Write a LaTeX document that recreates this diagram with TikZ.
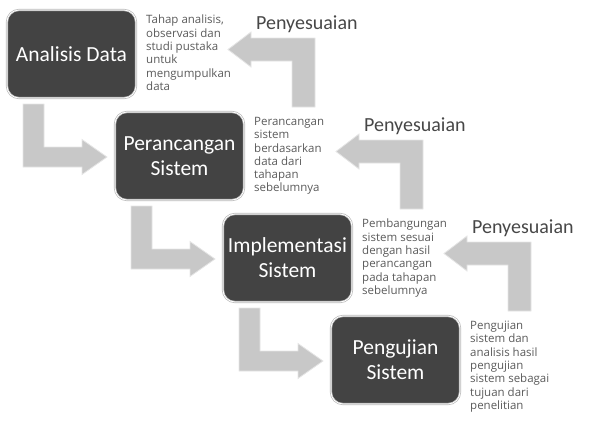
\documentclass[tikz,border=0pt]{standalone}
\usepackage{fontspec}
\setmainfont{Carlito}
\newfontfamily\descfont{Open Sans}
\usepackage{tikz}
\usetikzlibrary{positioning,calc}
\definecolor{boxdark}{HTML}{434343}
\definecolor{arrowgray}{HTML}{C8C8C8}
\definecolor{descgray}{HTML}{5A5A5A}
\tikzset{
	stage/.style = {rectangle, rounded corners=12pt, fill=boxdark, draw=gray!55,
		double=white, double distance=0.8pt, line width=0.7pt, minimum width=129pt,
		minimum height=88pt, align=center, text=white, outer sep=0pt,
		font=\fontsize{21.5}{25}\selectfont},% kotak tahapan
	desc/.style = {align=left, inner sep=0pt, text=descgray,
		font=\descfont\fontsize{11.5}{13.3}\selectfont},% keterangan tahapan
	adjust/.style = {inner sep=0pt, anchor=west, text=black!72,
		font=\fontsize{20}{24}\selectfont},% label penyesuaian
	bigarrow/.style = {fill=arrowgray, draw=white!80!gray, line width=0.8pt}
}
\begin{document}
\begin{tikzpicture}[x=1pt, y=-1pt]
\useasboundingbox (0,0) rectangle (590,429);
\node [stage] (analisis) at (71.5,54) {Analisis Data};
\node [stage, below right = 14pt and -21pt of analisis] (perancangan) {Perancangan\\ Sistem};
\node [stage, below right = 14pt and -21pt of perancangan] (implementasi) {Implementasi\\ Sistem};
\node [stage, below right = 14pt and -21pt of implementasi] (pengujian) {Pengujian\\ Sistem};

\node [desc, below right = 5pt and 10pt of analisis.north east] (d_analisis)
	{Tahap analisis,\\ observasi dan\\ studi pustaka\\ untuk\\ mengumpulkan\\ data};
\node [desc, below right = 5pt and 10pt of perancangan.north east] (d_perancangan)
	{Perancangan\\ sistem\\ berdasarkan\\ data dari\\ tahapan\\ sebelumnya};
\node [desc, below right = 5pt and 10pt of implementasi.north east] (d_implementasi)
	{Pembangungan\\ sistem sesuai\\ dengan hasil\\ perancangan\\ pada tahapan\\ sebelumnya};
\node [desc, below right = 5pt and 10pt of pengujian.north east] (d_pengujian)
	{Pengujian\\ sistem dan\\ analisis hasil\\ pengujian\\ sistem sebagai\\ tujuan dari\\ penelitian};

% panah lanjut ke tahap berikutnya
\draw [bigarrow] ($(analisis.south west)+(16,6)$) -- ($(analisis.south west)+(37,6)$)
	-- ($(analisis.south west |- perancangan.west)+(37,-9)$) -- ($(perancangan.west)+(-33,-9)$)
	-- ($(perancangan.west)+(-33,-16.5)$) -- ($(perancangan.west)+(-8,1)$)
	-- ($(perancangan.west)+(-33,18.5)$) -- ($(perancangan.west)+(-33,11)$)
	-- ($(analisis.south west |- perancangan.west)+(16,11)$) -- cycle;
\draw [bigarrow] ($(perancangan.south west)+(16,6)$) -- ($(perancangan.south west)+(37,6)$)
	-- ($(perancangan.south west |- implementasi.west)+(37,-9)$) -- ($(implementasi.west)+(-33,-9)$)
	-- ($(implementasi.west)+(-33,-16.5)$) -- ($(implementasi.west)+(-8,1)$)
	-- ($(implementasi.west)+(-33,18.5)$) -- ($(implementasi.west)+(-33,11)$)
	-- ($(perancangan.south west |- implementasi.west)+(16,11)$) -- cycle;
\draw [bigarrow] ($(implementasi.south west)+(16,6)$) -- ($(implementasi.south west)+(37,6)$)
	-- ($(implementasi.south west |- pengujian.west)+(37,-9)$) -- ($(pengujian.west)+(-33,-9)$)
	-- ($(pengujian.west)+(-33,-16.5)$) -- ($(pengujian.west)+(-8,1)$)
	-- ($(pengujian.west)+(-33,18.5)$) -- ($(pengujian.west)+(-33,11)$)
	-- ($(implementasi.south west |- pengujian.west)+(16,11)$) -- cycle;

% panah penyesuaian kembali ke tahap sebelumnya
\draw [bigarrow] ($(perancangan.north east)+(48,-5)$) -- ($(perancangan.north east)+(71,-5)$)
	-- ($(perancangan.north east)+(71,-74)$) -- ($(perancangan.north east)+(7,-74)$)
	-- ($(perancangan.north east)+(7,-80)$) -- ($(perancangan.north east)+(-16,-62.5)$)
	-- ($(perancangan.north east)+(7,-45)$) -- ($(perancangan.north east)+(7,-51)$)
	-- ($(perancangan.north east)+(48,-51)$) -- cycle;
\draw [bigarrow] ($(implementasi.north east)+(48,-5)$) -- ($(implementasi.north east)+(71,-5)$)
	-- ($(implementasi.north east)+(71,-74)$) -- ($(implementasi.north east)+(7,-74)$)
	-- ($(implementasi.north east)+(7,-80)$) -- ($(implementasi.north east)+(-16,-62.5)$)
	-- ($(implementasi.north east)+(7,-45)$) -- ($(implementasi.north east)+(7,-51)$)
	-- ($(implementasi.north east)+(48,-51)$) -- cycle;
\draw [bigarrow] ($(pengujian.north east)+(48,-5)$) -- ($(pengujian.north east)+(71,-5)$)
	-- ($(pengujian.north east)+(71,-74)$) -- ($(pengujian.north east)+(7,-74)$)
	-- ($(pengujian.north east)+(7,-80)$) -- ($(pengujian.north east)+(-16,-62.5)$)
	-- ($(pengujian.north east)+(7,-45)$) -- ($(pengujian.north east)+(7,-51)$)
	-- ($(pengujian.north east)+(48,-51)$) -- cycle;

\node [adjust] (s_perancangan) at ($(perancangan.north east)+(12,-88)$) {Penyesuaian};
\node [adjust] (s_implementasi) at ($(implementasi.north east)+(12,-88)$) {Penyesuaian};
\node [adjust] (s_pengujian) at ($(pengujian.north east)+(12,-88)$) {Penyesuaian};
\end{tikzpicture}
\end{document}
